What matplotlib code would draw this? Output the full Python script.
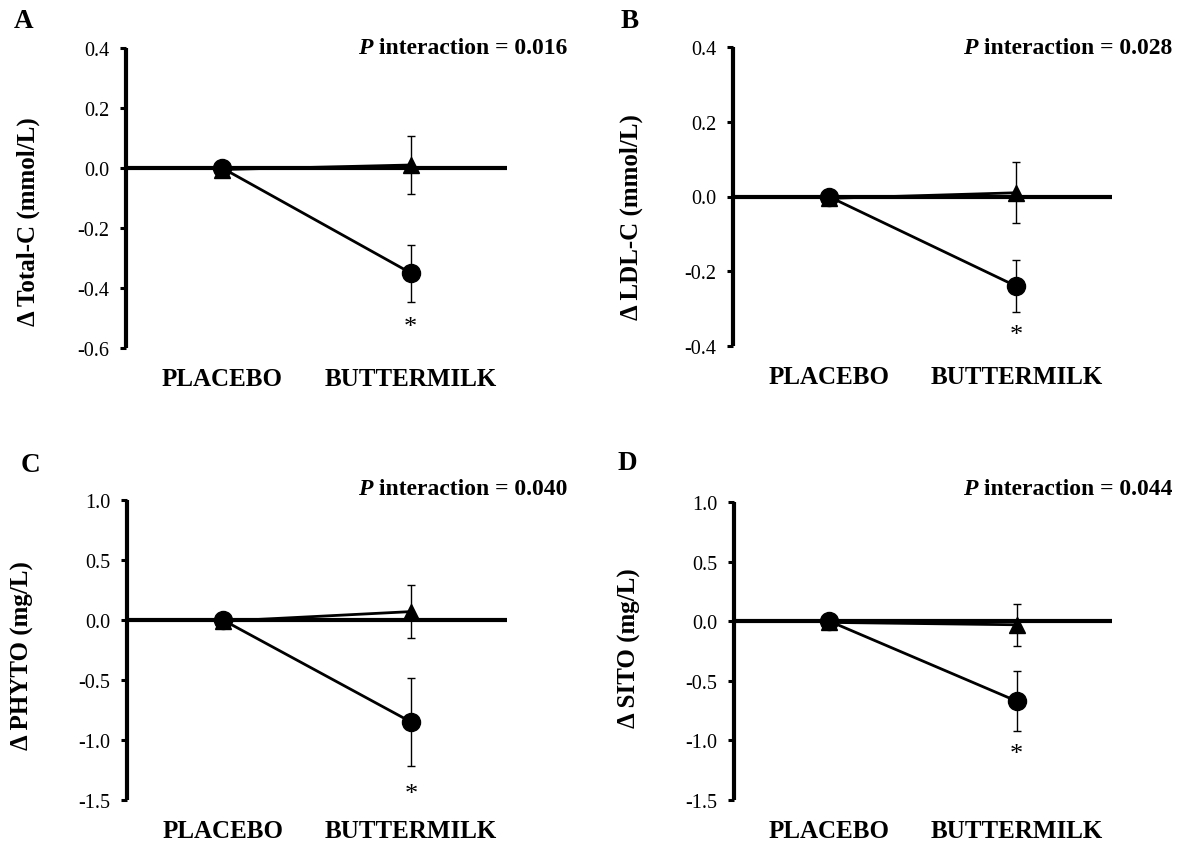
import matplotlib
matplotlib.use("Agg")
import matplotlib.pyplot as plt
from matplotlib.text import Annotation

plt.rcParams['font.family'] = ['Liberation Serif', 'DejaVu Serif']

categories = ["PLACEBO", "BUTTERMILK"]
panel_letters = ["A", "B", "C", "D"]
ylabels = ["\u0394 Total-C (mmol/L)", "\u0394 LDL-C (mmol/L)", "\u0394 PHYTO (mg/L)", "\u0394 SITO (mg/L)"]
p_texts = ["0.016", "0.028", "0.040", "0.044"]

circle_means = [[0.0, -0.35], [0.0, -0.24], [0.0, -0.85], [0.0, -0.67]]
circle_err = [[0.0, 0.095], [0.0, 0.07], [0.0, 0.37], [0.0, 0.255]]
tri_means = [[-0.005, 0.01], [-0.005, 0.01], [-0.01, 0.07], [-0.01, -0.03]]
tri_err = [[0.0, 0.098], [0.0, 0.082], [0.0, 0.22], [0.0, 0.175]]
star_y = [-0.53, -0.37, -1.45, -1.11]

yticks = [[0.4, 0.2, 0.0, -0.2, -0.4, -0.6],
          [0.4, 0.2, 0.0, -0.2, -0.4],
          [1.0, 0.5, 0.0, -0.5, -1.0, -1.5],
          [1.0, 0.5, 0.0, -0.5, -1.0, -1.5]]

W, H = 1182, 845
fig = plt.figure(figsize=(W / 100, H / 100), dpi=100)

# axes pixel boxes: left, right, top, bottom
boxes = [(126, 507, 49, 349), (733, 1112, 48, 347), (127, 507, 501, 801), (734, 1112, 503, 801)]
letter_pos = [(14, 22), (621, 22), (21, 466), (617, 464)]
p_pos = [(567, 48), (1172, 48), (567, 490), (1172, 490)]
ylab_pos = [(28, 222), (631, 217), (22, 656), (629, 648)]

for i in range(4):
    l, r, t, b = boxes[i]
    ax = fig.add_axes([l / W, 1 - b / H, (r - l) / W, (b - t) / H])
    x = [1, 2]
    ax.axhline(0, color='black', lw=3, zorder=1)
    ax.errorbar(x, tri_means[i], yerr=tri_err[i], color='black', marker='^', ms=12,
                lw=2, elinewidth=1, capsize=3, capthick=1, zorder=3)
    ax.errorbar(x, circle_means[i], yerr=circle_err[i], color='black', marker='o', ms=13,
                lw=2, elinewidth=1, capsize=3, capthick=1, zorder=4)
    ax.text(2, star_y[i], "*", ha='center', va='center', fontsize=19)
    ax.set_xlim(0.49, 2.51)
    ax.set_ylim(min(yticks[i]), max(yticks[i]))
    ax.set_yticks(yticks[i])
    ax.set_yticklabels([f"{v:.1f}" for v in yticks[i]], fontsize=14.5)
    for s in ['top', 'right', 'bottom']:
        ax.spines[s].set_visible(False)
    ax.spines['left'].set_linewidth(3)
    ax.spines['left'].set_capstyle('butt')
    ax.tick_params(axis='y', direction='out', length=4, width=2.2, pad=8)
    ax.set_xticks(x)
    ax.set_xticklabels(categories, fontsize=18, fontweight='bold')
    ax.tick_params(axis='x', length=0, pad=14)
    ax.patch.set_visible(False)

    yx, yy = ylab_pos[i]
    fig.text(yx / W, 1 - yy / H, ylabels[i], fontsize=18, fontweight='bold',
             rotation=90, ha='center', va='center')

    lx, ly = letter_pos[i]
    fig.text(lx / W, 1 - ly / H, panel_letters[i], fontsize=19.5, fontweight='bold',
             ha='left', va='center')
    px, py = p_pos[i]
    t1 = fig.text(px / W, 1 - py / H, " interaction = " + p_texts[i], fontsize=17,
                  fontweight='bold', ha='right', va='center')
    fig.add_artist(Annotation("P", xy=(0, 0), xycoords=t1, ha='right',
                              va='bottom', fontsize=17, fontweight='bold',
                              fontstyle='italic'))

fig.savefig("out.png", dpi=100)
